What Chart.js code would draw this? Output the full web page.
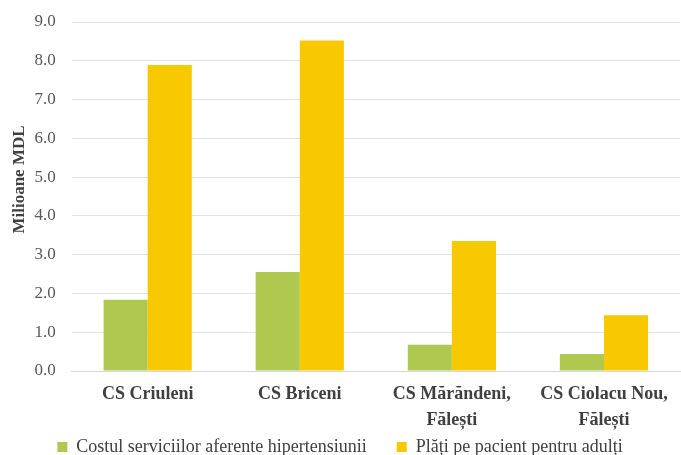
<!DOCTYPE html>
<html>
<head>
<meta charset="utf-8">
<script src="https://cdn.jsdelivr.net/npm/chart.js@4"></script>
<style>
  html, body { margin: 0; padding: 0; background: #fff; }
  #wrap { width: 681px; height: 455px; }
</style>
</head>
<body>
<div id="wrap"><canvas id="grafic"></canvas></div>
<script>
// date (milioane MDL)
const categorii = ["CS Criuleni", "CS Briceni", ["CS Mărăndeni,", "Fălești"], ["CS Ciolacu Nou,", "Fălești"]];
const costHipertensiune = [1.84, 2.55, 0.68, 0.44];
const platiAdulti = [7.89, 8.52, 3.35, 1.44];
const tickuriY = [0, 1, 2, 3, 4, 5, 6, 7, 8, 9];

const font = "'Liberation Serif', 'DejaVu Serif', serif";

// legenda aproape de marginea de jos, etichetele pe doua randuri nu se taie
const legendaJos = {
  id: "legendaJos",
  beforeInit(chart) {
    const fitVechi = chart.legend.fit;
    chart.legend.fit = function () {
      fitVechi.bind(chart.legend)();
      this.height = 47;
    };
  },
  afterLayout(chart) {
    chart.scales.x.bottom = chart.height;
  }
};

new Chart("grafic", {
  type: "bar",
  data: {
    labels: categorii,
    datasets: [{
      label: "Costul serviciilor aferente hipertensiunii",
      data: costHipertensiune,
      backgroundColor: "#AFC850",
      borderWidth: 0
    }, {
      label: "Plăți pe pacient pentru adulți",
      data: platiAdulti,
      backgroundColor: "#F8C800",
      borderWidth: 0
    }]
  },
  plugins: [legendaJos],
  options: {
    responsive: true,
    maintainAspectRatio: false,
    animation: false,
    layout: { padding: { left: 0, right: 1, top: 22, bottom: 0 } },
    datasets: { bar: { categoryPercentage: 0.58, barPercentage: 1.0 } },
    plugins: {
      tooltip: { enabled: false },
      legend: {
        display: true,
        position: "bottom",
        labels: {
          font: { family: font, size: 18 },
          color: "#404040",
          boxWidth: 10,
          boxHeight: 10,
          padding: 30
        }
      }
    },
    scales: {
      x: {
        grid: { display: false, drawTicks: false },
        border: { color: "#D9D9D9" },
        afterFit: function (ax) { ax.height = 37; },
        ticks: {
          font: { family: font, size: 18, weight: "bold", lineHeight: 1.45 },
          color: "#404040",
          maxRotation: 0,
          autoSkip: false,
          padding: 10
        }
      },
      y: {
        min: 0,
        max: 9,
        afterBuildTicks: function (ax) { ax.ticks = tickuriY.map(v => ({ value: v })); },
        afterFit: function (ax) { ax.paddingTop = 0; },
        grid: { color: "#E3E3E3", drawTicks: false },
        border: { display: false },
        title: {
          display: true,
          text: "        Milioane MDL",
          font: { family: font, size: 17, weight: "bold" },
          color: "#404040",
          padding: { top: 9, bottom: -11 }
        },
        ticks: {
          font: { family: font, size: 17 },
          color: "#595959",
          padding: 16,
          callback: function (v) { return Number(v).toFixed(1); }
        }
      }
    }
  }
});
</script>
</body>
</html>
